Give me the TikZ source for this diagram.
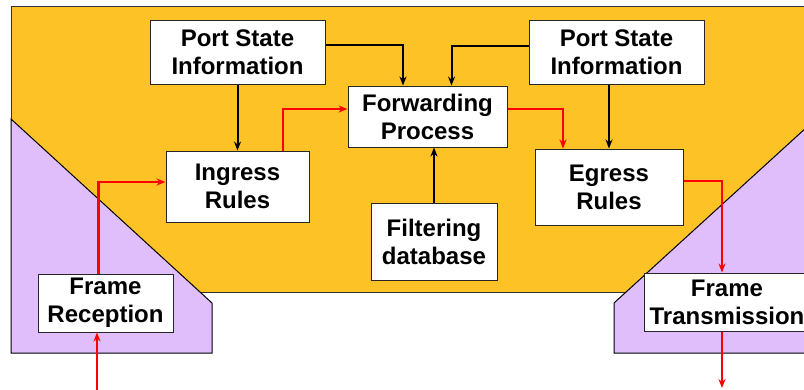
\documentclass[tikz,border=0pt]{standalone}
\usepackage{fontspec}
\setmainfont{Liberation Sans}
\usetikzlibrary{arrows.meta}
\definecolor{bgorange}{RGB}{252,194,38}
\definecolor{bglilac}{RGB}{224,190,251}
\tikzset{
  box/.style={draw=black!85,fill=white,line width=1pt,inner sep=0pt,align=center,
    font=\bfseries\fontsize{24}{28}\selectfont,execute at begin node={\rule{0pt}{30pt}}},
  ctl/.style={line width=2pt,-{Stealth[length=9pt,width=7pt]}},
  data/.style={red,line width=2.5pt,-{Stealth[length=9pt,width=7pt]}}
}
\begin{document}
\begin{tikzpicture}[x=1pt,y=-1pt]
\clip (0,0) rectangle (804,389);
% background areas
\draw[fill=bgorange,draw=black!80,line width=1pt] (11,6) rectangle (830,292);
\draw[fill=bglilac,line width=1pt] (11,119) -- (212,303) -- (212,353) -- (11,353) -- cycle;
\draw[fill=bglilac,line width=1pt] (830,106) -- (614,303) -- (614,353) -- (830,353) -- cycle;
% boxes
\node[box,minimum width=175pt,minimum height=64pt] (psiL) at (237.5,52) {Port State\\Information};
\node[box,minimum width=175pt,minimum height=64pt] (psiR) at (616.5,52.5) {Port State\\Information};
\node[box,minimum width=159pt,minimum height=61pt] (fwd) at (427.5,116.5) {Forwarding\\Process};
\node[box,minimum width=143pt,minimum height=71pt] (ingr) at (237.5,186.5) {Ingress\\Rules};
\node[box,minimum width=148pt,minimum height=76pt] (egr) at (609,187) {Egress\\Rules};
\node[box,minimum width=126pt,minimum height=77pt] (filt) at (434,241.5) {Filtering\\database};
\node[box,minimum width=135pt,minimum height=58pt] (recv) at (105.5,303) {Frame\\Reception};
\node[box,minimum width=166pt,minimum height=58pt] (trans) at (727,302) {Frame\\Transmission};
\coordinate (in) at (97,392);
\coordinate (out) at (722,388);
% control
\draw[ctl] (psiL) -- (ingr);
\draw[ctl] ([yshift=7pt]psiL.east) -| ([xshift=-24.5pt]fwd.north);
\draw[ctl] ([yshift=7pt]psiR.west) -| ([xshift=24pt]fwd.north);
\draw[ctl] (egr.north |- psiR.south) -- (egr.north);
\draw[ctl] (filt.north) -- (filt.north |- fwd.south);
% frames
\draw[data] (in) -- (in |- recv.south);
\draw[data] ([xshift=-7pt]recv.north) |- ([yshift=4.5pt]ingr.west);
\draw[data] ([xshift=45.5pt]ingr.north) |- ([yshift=7.5pt]fwd.west);
\draw[data] ([yshift=7.5pt]fwd.east) -| ([xshift=-46pt]egr.north);
\draw[data] ([yshift=6pt]egr.east) -| ([xshift=-5pt]trans.north);
\draw[data] ([xshift=-5pt]trans.south) -- (out);
\end{tikzpicture}
\end{document}
